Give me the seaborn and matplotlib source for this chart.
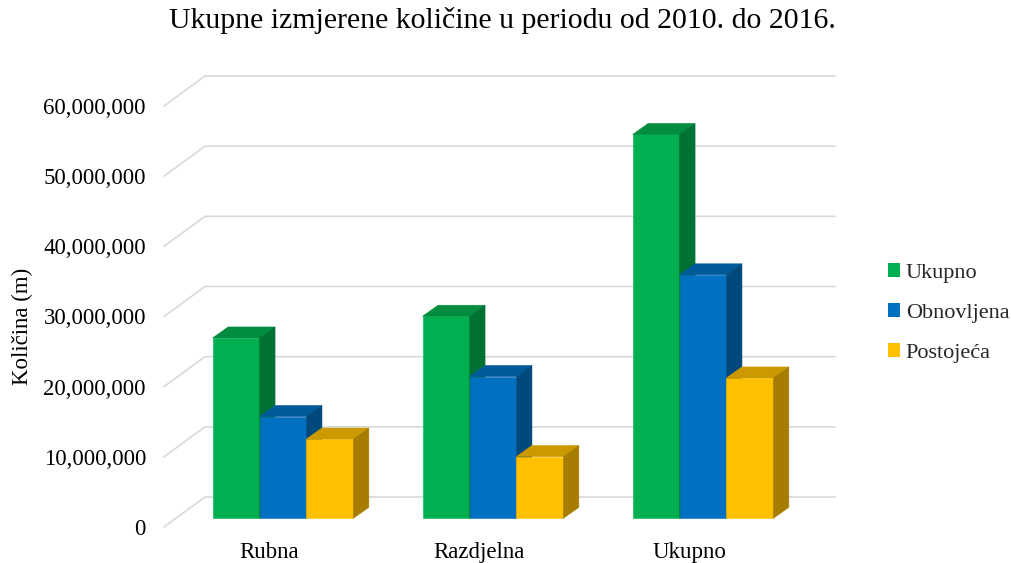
import numpy as np
import pandas as pd
import seaborn as sns
import matplotlib.pyplot as plt
import matplotlib.colors as mcolors
import matplotlib.transforms as mtransforms
from matplotlib.patches import Polygon
from matplotlib.ticker import FuncFormatter

# podaci (ocitano s grafikona)
kategorije = ["Rubna", "Razdjelna", "Ukupno"]
serije = ["Ukupno", "Obnovljena", "Postojeća"]
ukupno = [25.7e6, 28.8e6, 54.7e6]
obnovljena = [14.5e6, 20.2e6, 34.7e6]
postojeca = [11.3e6, 8.8e6, 20.0e6]
y_ticks = [0, 10e6, 20e6, 30e6, 40e6, 50e6, 60e6]
boje = ["#00B050", "#0070C0", "#FFC000"]

df = pd.DataFrame({
    "Kategorija": kategorije * 3,
    "Serija": np.repeat(serije, len(kategorije)),
    "Vrijednost": ukupno + obnovljena + postojeca,
})

sns.set_theme(style="white")
plt.rcParams["font.family"] = ["Liberation Serif", "DejaVu Serif"]

W, H = 1011, 563
fig = plt.figure(figsize=(W / 100, H / 100), dpi=100)
# prednja ravnina "3D" grafikona, u pikselima
x0, x1, y0, y1 = 164, 794, 527, 106
ax = fig.add_axes([x0 / W, (H - y0) / H, (x1 - x0) / W, (y0 - y1) / H])

sns.barplot(data=df, x="Kategorija", y="Vrijednost", hue="Serija",
            palette=boje, saturation=1, width=0.67, linewidth=0, ax=ax)
ax.set_xlim(-0.5, 2.5)
ax.set_ylim(0, 60e6)

px_x = (x1 - x0) / 3.0          # piksela po kategoriji
px_y = (y0 - y1) / 60e6         # piksela po jedinici

# pomak stupaca u dubinu
pomak = mtransforms.ScaledTranslation(14 / 100, 8.7 / 100, fig.dpi_scale_trans)
trans = ax.transData + pomak
ddx, ddy = 15.5 / px_x, 11 / px_y   # dubina stupca

for i, cont in enumerate(ax.containers):
    rgb = np.array(mcolors.to_rgb(boje[i]))
    for bar in cont:
        bar.set_transform(trans)
        bar.set_zorder(3 + i)
        bar.set_edgecolor(boje[i])
        bar.set_linewidth(0.4)
        bx, bw, bh = bar.get_x(), bar.get_width(), bar.get_height()
        vrh = Polygon([(bx, bh), (bx + bw, bh), (bx + bw + ddx, bh + ddy), (bx + ddx, bh + ddy)],
                      closed=True, facecolor=rgb * 0.8, edgecolor=rgb * 0.8, lw=0.4,
                      transform=trans, zorder=3 + i, clip_on=False)
        bok = Polygon([(bx + bw, 0), (bx + bw + ddx, ddy), (bx + bw + ddx, bh + ddy), (bx + bw, bh)],
                      closed=True, facecolor=rgb * 0.65, edgecolor=rgb * 0.65, lw=0.4,
                      transform=trans, zorder=3 + i, clip_on=False)
        ax.add_patch(vrh)
        ax.add_patch(bok)

# mreza na straznjem zidu
gdx, gdy = 41 / px_x, 30 / px_y
for v in y_ticks:
    ax.plot([-0.5, -0.5 + gdx, 2.5 + gdx], [v, v + gdy, v + gdy],
            color="#d9d9d9", lw=1.2, clip_on=False, zorder=1)

ax.set_yticks(y_ticks)
ax.yaxis.set_major_formatter(FuncFormatter(lambda v, p: f"{v:,.0f}"))
ax.tick_params(axis="y", length=0, pad=13, labelsize=16.5, labelcolor="black")
ax.tick_params(axis="x", length=0, pad=11, labelsize=16.5, labelcolor="black")
ax.set_xlabel("")
ax.set_ylabel("")
ax.grid(False)
ax.patch.set_visible(False)
for s in ax.spines.values():
    s.set_visible(False)

fig.text(22 / W, 1 - 326 / H, "Količina (m)", rotation=90, ha="center", va="center",
         fontsize=16.5, color="black")
fig.text(502 / W, 1 - 21 / H, "Ukupne izmjerene količine u periodu od 2010. do 2016.",
         ha="center", va="center", fontsize=21.5, color="black")

handles, labels = ax.get_legend_handles_labels()
ax.get_legend().remove()
fig.legend(handles, labels, loc="center left", bbox_to_anchor=(888 / W, 1 - 313 / H),
           bbox_transform=fig.transFigure, frameon=False, fontsize=16,
           handlelength=0.55, handleheight=0.55, handletextpad=0.25,
           labelspacing=0.92, borderpad=0, borderaxespad=0)

fig.savefig("out.png", dpi=100)
